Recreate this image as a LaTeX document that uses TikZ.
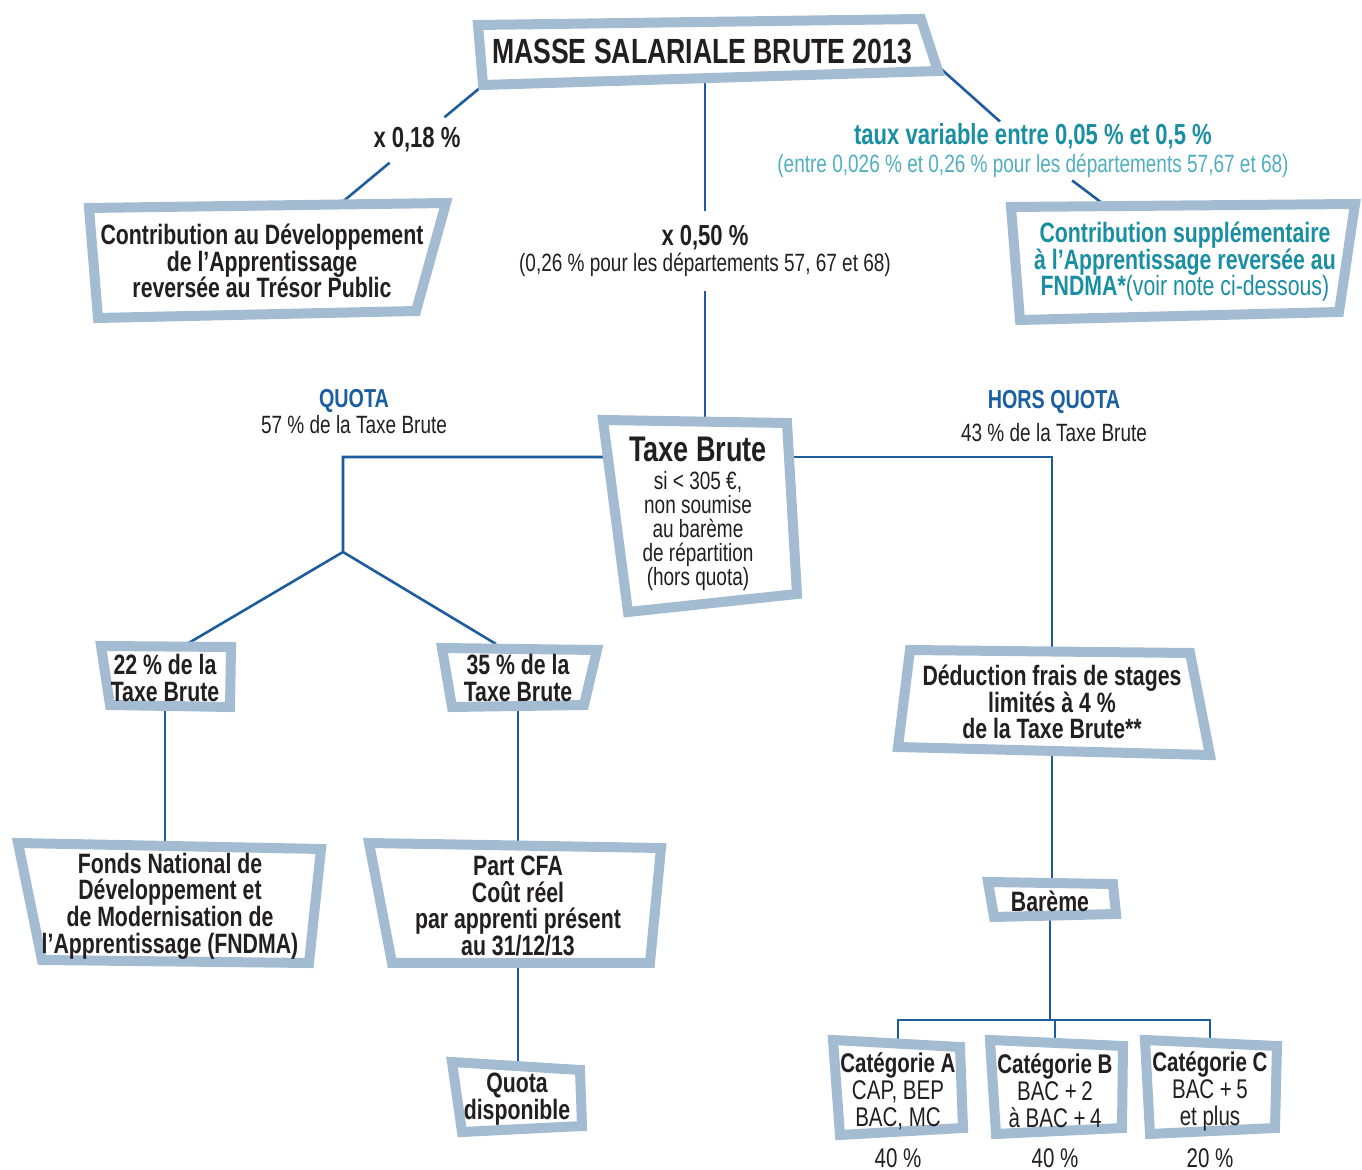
\documentclass[tikz,border=0pt]{standalone}
\usepackage{fontspec}
\setmainfont[FakeStretch=0.76]{Liberation Sans}
\usepackage{tikz}
\usetikzlibrary{backgrounds}
\definecolor{framec}{HTML}{A3BCD2}
\definecolor{linkc}{HTML}{1F5C9E}
\definecolor{quotac}{HTML}{1B5FA0}
\definecolor{tealc}{HTML}{1A8FA3}
\definecolor{lteal}{HTML}{4FAFC0}
\definecolor{ink}{HTML}{231F20}
\begin{document}
\begin{tikzpicture}[x=0.5pt,y=-0.5pt,
  frame/.style={draw=framec,line width=5pt,fill=white,line join=miter},
  box/.style={align=center,text=ink,inner sep=0pt,font=\fontsize{14}{13.3}\selectfont\bfseries},
  lab/.style={align=center,text=ink,inner sep=4pt,font=\fontsize{12.5}{13}\selectfont},
  link/.style={draw=linkc,line width=1.3pt}]
\useasboundingbox (0,0) rectangle (1362,1170);
\coordinate (msw) at (481,87); \coordinate (cdn) at (340,204);
\coordinate (mse) at (940,68); \coordinate (csn) at (1106,206);
\coordinate (tb) at (700,457); \coordinate (split) at (343,552);
\coordinate (t22) at (187,644); \coordinate (t35) at (496,644);
\coordinate (bar) at (1053,1020);
% cadres
\draw[frame](478,25)--(921,19)--(938,71)--(483,85)--cycle;
\draw[frame](89,208)--(446,203)--(416,311)--(98,318)--cycle;
\draw[frame](1011,207)--(1355,204)--(1339,312)--(1020,320)--cycle;
\draw[frame](603,420)--(787,423)--(797,594)--(628,612)--cycle;
\draw[frame](101,646)--(231,647)--(230,707)--(110,705)--cycle;
\draw[frame](442,648)--(597,650)--(584,705)--(452,707)--cycle;
\draw[frame](18,843)--(321,849)--(309,963)--(42,960)--cycle;
\draw[frame](369,843)--(661,848)--(650,963)--(392,963)--cycle;
\draw[frame](452,1062)--(580,1070)--(582,1126)--(462,1132)--cycle;
\draw[frame](910,650)--(1190,653)--(1210,755)--(898,747)--cycle;
\draw[frame](988,882)--(1113,884)--(1116,914)--(994,917)--cycle;
\draw[frame](833,1040)--(960,1047)--(963,1128)--(840,1135)--cycle;
\draw[frame](990,1040)--(1123,1046)--(1122,1128)--(996,1134)--cycle;
\draw[frame](1145,1040)--(1277,1046)--(1275,1128)--(1150,1134)--cycle;
% textes
\node[box,font=\fontsize{17.5}{18}\selectfont\bfseries](masse) at (702,51){MASSE SALARIALE BRUTE 2013};
\node[box](cdap) at (262,261){Contribution au Développement\\de l’Apprentissage\\reversée au Trésor Public};
\node[box,text=tealc](csup) at (1185,262){Contribution supplémentaire\\à l’Apprentissage reversée au\\FNDMA*{\mdseries(voir note ci-dessous)}};
\node[box,font=\fontsize{12.5}{12}\selectfont](taxe) at (698,514){{\fontsize{17.8}{18}\selectfont\bfseries Taxe Brute}\\[2pt]si < 305 €,\\non soumise\\au barème\\de répartition\\(hors quota)};
\node[box](q22) at (165,678){22 \% de la\\Taxe Brute};
\node[box](q35) at (518,678){35 \% de la\\Taxe Brute};
\node[box](fndma) at (170,906){Fonds National de\\Développement et\\de Modernisation de\\l’Apprentissage (FNDMA)};
\node[box](cfa) at (518,906){Part CFA\\Coût réel\\par apprenti présent\\au 31/12/13};
\node[box](qdisp) at (517,1099){Quota\\disponible};
\node[box](deduc) at (1052,702){Déduction frais de stages\\limités à 4 \%\\de la Taxe Brute**};
\node[box](bareme) at (1050,901){Barème};
\node[box,font=\fontsize{13.5}{13.5}\selectfont](cata) at (898,1091){\textbf{Catégorie A}\\CAP, BEP\\BAC, MC};
\node[box,font=\fontsize{13.5}{13.5}\selectfont](catb) at (1055,1091){\textbf{Catégorie B}\\BAC +\,2\\à BAC +\,4};
\node[box,font=\fontsize{13.5}{13.5}\selectfont](catc) at (1210,1091){\textbf{Catégorie C}\\BAC +\,5\\et plus};
\node[lab,font=\fontsize{13.5}{14}\selectfont,inner sep=0pt](pa) at (898,1158){40 \%};
\node[lab,font=\fontsize{13.5}{14}\selectfont,inner sep=0pt](pb) at (1055,1158){40 \%};
\node[lab,font=\fontsize{13.5}{14}\selectfont,inner sep=0pt](pc) at (1210,1158){20 \%};
\node[lab,font=\fontsize{14.5}{15}\selectfont\bfseries,inner sep=5pt](x018) at (417,140){x 0,18 \%};
\node[lab,inner ysep=7pt](r050) at (705,251){{\fontsize{14.5}{15}\selectfont\bfseries x 0,50 \%}\\(0,26 \% pour les départements 57, 67 et 68)};
\node[lab,text=lteal,inner sep=1pt](taux) at (1033,151){{\fontsize{14.5}{15}\selectfont\bfseries\textcolor{tealc}{taux variable entre 0,05 \% et 0,5 \%}}\\[1pt](entre 0,026 \% et 0,26 \% pour les départements 57,67 et 68)};
\node[lab](quota) at (354,412){{\fontsize{13}{13}\selectfont\bfseries\textcolor{quotac}{QUOTA}}\\57 \% de la Taxe Brute};
\node[lab](hors) at (1054,416){{\fontsize{13}{13}\selectfont\bfseries\textcolor{quotac}{HORS QUOTA}}\\[3.5pt]43 \% de la Taxe Brute};
% liaisons
\begin{scope}[on background layer]
\draw[link](msw)--(x018)--(cdn);
\draw[link](r050 |- masse)--(r050)--(r050 |- taxe);
\draw[link](mse)--(taux)--(csn);
\draw[link](tb)-|(split)--(t22) (split)--(t35);
\draw[link](tb)-|(deduc);
\draw[link](q22)--(q22 |- fndma) (q35)--(q35 |- cfa) (cfa)--(cfa |- qdisp);
\draw[link](deduc)--(deduc |- bareme) (bareme)--(bareme |- bar);
\draw[link](cata)--(cata |- bar)-|(catc) (catb)--(catb |- bar);
\end{scope}
\end{tikzpicture}
\end{document}
